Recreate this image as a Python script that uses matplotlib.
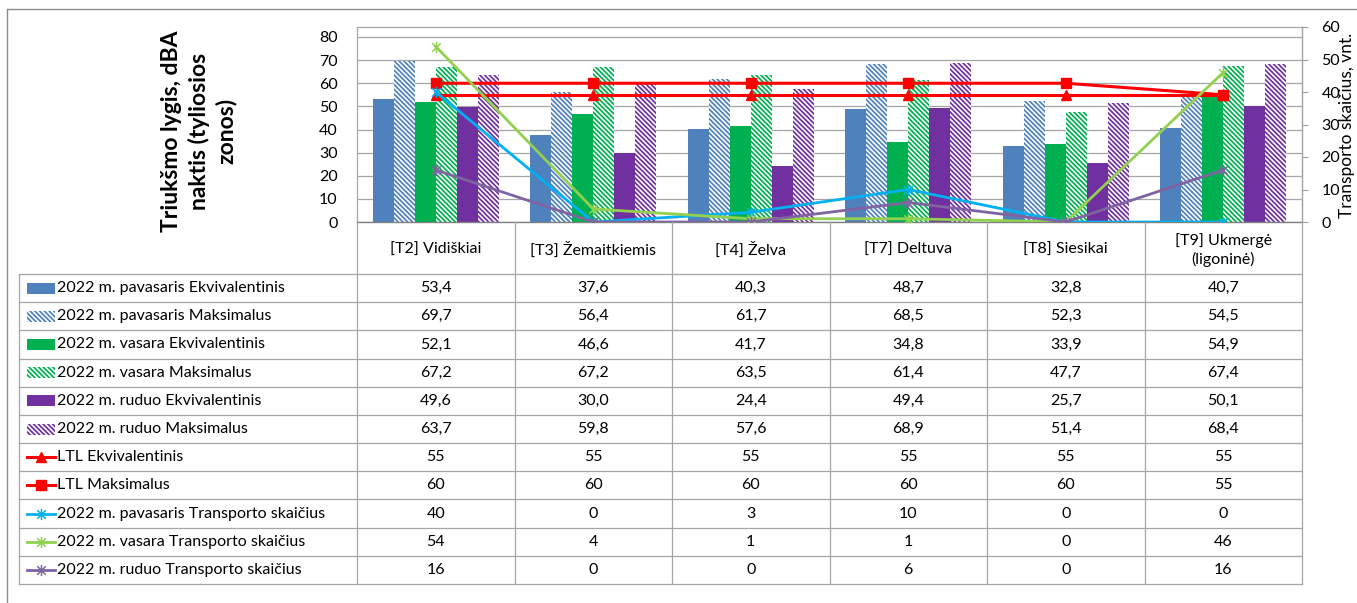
import matplotlib
matplotlib.use("Agg")
import matplotlib.pyplot as plt
from matplotlib.patches import Rectangle
from matplotlib.lines import Line2D
from matplotlib.path import Path

plt.rcParams['font.family'] = ['Lato', 'DejaVu Sans']
plt.rcParams['hatch.linewidth'] = 1.25

W, H, DPI = 1357, 603, 100

categories = ["[T2] Vidiškiai", "[T3] Žemaitkiemis", "[T4] Želva",
              "[T7] Deltuva", "[T8] Siesikai", "[T9] Ukmergė\n(ligoninė)"]

spring_eq = [53.4, 37.6, 40.3, 48.7, 32.8, 40.7]
spring_max = [69.7, 56.4, 61.7, 68.5, 52.3, 54.5]
summer_eq = [52.1, 46.6, 41.7, 34.8, 33.9, 54.9]
summer_max = [67.2, 67.2, 63.5, 61.4, 47.7, 67.4]
autumn_eq = [49.6, 30.0, 24.4, 49.4, 25.7, 50.1]
autumn_max = [63.7, 59.8, 57.6, 68.9, 51.4, 68.4]
ltl_eq = [55, 55, 55, 55, 55, 55]
ltl_max = [60, 60, 60, 60, 60, 55]
traffic_spring = [40, 0, 3, 10, 0, 0]
traffic_summer = [54, 4, 1, 1, 0, 46]
traffic_autumn = [16, 0, 0, 6, 0, 16]

BLUE, GREEN, PURPLE = "#4F81BD", "#00B050", "#7030A0"
RED = "#FF0000"
T_BLUE, T_GREEN, T_PURPLE = "#00B0F0", "#92D050", "#8064A2"
GRID = "#A6A6A6"
HATCH = "\\" * 7
STAR_MS = 8

# asterisk-like marker: an X with a vertical stroke
STAR = Path([(-1, -1), (1, 1), (-1, 1), (1, -1), (0, -1.3), (0, 1.3)],
            [Path.MOVETO, Path.LINETO, Path.MOVETO, Path.LINETO,
             Path.MOVETO, Path.LINETO])

bar_series = [
    ("2022 m. pavasaris Ekvivalentinis", spring_eq, BLUE, False),
    ("2022 m. pavasaris Maksimalus", spring_max, BLUE, True),
    ("2022 m. vasara Ekvivalentinis", summer_eq, GREEN, False),
    ("2022 m. vasara Maksimalus", summer_max, GREEN, True),
    ("2022 m. ruduo Ekvivalentinis", autumn_eq, PURPLE, False),
    ("2022 m. ruduo Maksimalus", autumn_max, PURPLE, True),
]
limit_series = [
    ("LTL Ekvivalentinis", ltl_eq, RED, "^", 6.5),
    ("LTL Maksimalus", ltl_max, RED, "s", 7),
]
traffic_series = [
    ("2022 m. pavasaris Transporto skaičius", traffic_spring, T_BLUE),
    ("2022 m. vasara Transporto skaičius", traffic_summer, T_GREEN),
    ("2022 m. ruduo Transporto skaičius", traffic_autumn, T_PURPLE),
]


def fx(x):
    return x / W


def fy(y):
    return 1 - y / H


fig = plt.figure(figsize=(W / DPI, H / DPI), dpi=DPI)

# plot area in pixel coordinates
PL, PR, PT, PB = 357, 1302, 27, 222
ax = fig.add_axes([fx(PL), fy(PB), (PR - PL) / W, (PB - PT) / H])
n = len(categories)
x = list(range(n))
ax.set_xlim(-0.5, n - 0.5)
ax.set_ylim(0, 80 * (PB - PT) / (PB - 37))
ax.set_yticks(range(0, 81, 10))
ax.set_xticks([])
ax.yaxis.grid(True, color=GRID, lw=0.9)
ax.set_axisbelow(True)
ax.tick_params(axis='y', length=0, pad=14, labelsize=11.5, colors="black")
for s in ("top", "left", "right"):
    ax.spines[s].set_color(GRID)
    ax.spines[s].set_linewidth(0.9)
ax.spines["bottom"].set_color("#808080")
ax.spines["bottom"].set_linewidth(1.0)

bw = 0.8 / len(bar_series)
for i, (name, vals, col, hatched) in enumerate(bar_series):
    pos = [c + (i - 2.5) * bw for c in x]
    if hatched:
        ax.bar(pos, vals, bw, facecolor="white", edgecolor=col, hatch=HATCH,
               linewidth=0, zorder=2)
    else:
        ax.bar(pos, vals, bw, color=col, linewidth=0, zorder=2)

for name, vals, col, mk, ms in limit_series:
    ax.plot(x, vals, color=col, lw=2.2, marker=mk, ms=ms, zorder=3)

ax2 = ax.twinx()
ax2.set_ylim(0, 60)
ax2.set_yticks(range(0, 61, 10))
ax2.tick_params(axis='y', direction='out', length=4, width=0.9, color=GRID,
                pad=10, labelsize=11.5)
for s in ("top", "left", "bottom"):
    ax2.spines[s].set_visible(False)
ax2.spines["right"].set_color(GRID)
ax2.spines["right"].set_linewidth(0.9)
for name, vals, col in traffic_series:
    ax2.plot(x, vals, color=col, lw=2.0, marker=STAR, ms=STAR_MS,
             mec=col, mew=1.1, mfc="none", zorder=3)

# axis titles
fig.text(fx(199), fy(131), "Triukšmo lygis, dBA\nnaktis (tyliosios\nzonos)",
         rotation=90, ha="center", va="center", fontsize=16.5,
         fontweight="bold", linespacing=1.3)
fig.text(fx(1347), fy(125), "Transporto skaičius, vnt.", rotation=90,
         ha="center", va="center", fontsize=12.5)

# data table under the plot
col_edges = [PL + k * (PR - PL) / n for k in range(n + 1)]
TL = 19
ROW_TOP = 274
ROW_H = (584 - 274) / 11
row_edges = [ROW_TOP + k * ROW_H for k in range(12)]


def hline(y, x0, x1, color=GRID, lw=0.9):
    fig.add_artist(Line2D([fx(x0), fx(x1)], [fy(y), fy(y)], color=color, lw=lw))


def vline(xp, y0, y1, color=GRID, lw=0.9):
    fig.add_artist(Line2D([fx(xp), fx(xp)], [fy(y0), fy(y1)], color=color, lw=lw))


for y in row_edges:
    hline(y, TL, PR)
vline(TL, row_edges[0], row_edges[-1])
vline(PL, PB, row_edges[-1])
vline(PR, PB, row_edges[-1])
for xe in col_edges[1:-1]:
    vline(xe, PB, row_edges[-1])

for k, cat in enumerate(categories):
    cx = (col_edges[k] + col_edges[k + 1]) / 2
    fig.text(fx(cx), fy(250), cat, ha="center", va="center", fontsize=11.5,
             linespacing=1.3)


def fmt_dec(v):
    return f"{v:.1f}".replace(".", ",")


rows = []
for name, vals, col, hatched in bar_series:
    rows.append((name, [fmt_dec(v) for v in vals], ("bar", col, hatched)))
for name, vals, col, mk, ms in limit_series:
    rows.append((name, [str(v) for v in vals], ("line", col, mk, ms)))
for name, vals, col in traffic_series:
    rows.append((name, [str(v) for v in vals], ("line", col, STAR, STAR_MS)))

SW0, SW1 = 27, 55
for r, (name, texts, key) in enumerate(rows):
    yc = (row_edges[r] + row_edges[r + 1]) / 2
    if key[0] == "bar":
        _, col, hatched = key
        sh = 11
        if hatched:
            rect = Rectangle((fx(SW0), fy(yc + sh / 2)), (SW1 - SW0) / W, sh / H,
                             transform=fig.transFigure, facecolor="white",
                             edgecolor=col, hatch=HATCH, linewidth=0)
        else:
            rect = Rectangle((fx(SW0), fy(yc + sh / 2)), (SW1 - SW0) / W, sh / H,
                             transform=fig.transFigure, facecolor=col, linewidth=0)
        fig.add_artist(rect)
    else:
        _, col, mk, ms = key
        if mk is STAR:
            fig.add_artist(Line2D([fx(SW0), fx(SW1)], [fy(yc), fy(yc)], color=col,
                                  lw=2.0))
            fig.add_artist(Line2D([fx((SW0 + SW1) / 2)], [fy(yc)], marker=mk,
                                  ms=ms, mec=col, mew=1.1, mfc="none", lw=0))
        else:
            fig.add_artist(Line2D([fx(SW0), fx(SW1)], [fy(yc), fy(yc)], color=col,
                                  lw=2.2))
            fig.add_artist(Line2D([fx((SW0 + SW1) / 2)], [fy(yc)], marker=mk,
                                  ms=ms, color=col, lw=0))
    fig.text(fx(57), fy(yc), name, ha="left", va="center", fontsize=11.5)
    for k, t in enumerate(texts):
        cx = (col_edges[k] + col_edges[k + 1]) / 2
        fig.text(fx(cx), fy(yc), t, ha="center", va="center", fontsize=11.5)

# outer chart border
fig.add_artist(Line2D([fx(7), fx(7), fx(W)], [fy(H), fy(9), fy(9)],
                      color="#8C8C8C", lw=1.0))

fig.savefig("out.png", dpi=DPI)
